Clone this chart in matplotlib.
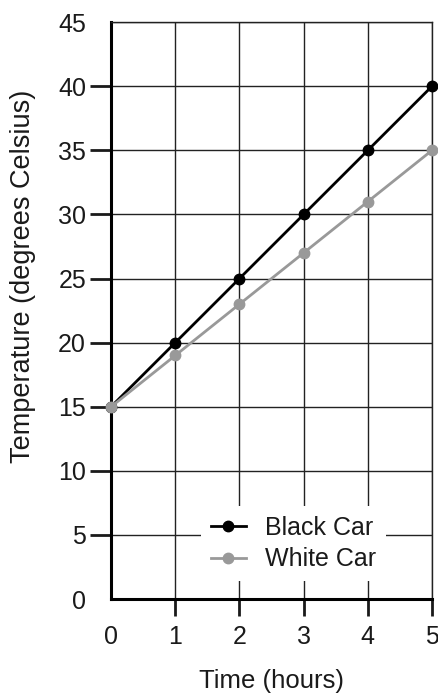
import matplotlib.pyplot as plt

plt.rcParams['font.family'] = ['Liberation Sans', 'DejaVu Sans']

hours = [0, 1, 2, 3, 4, 5]
black_car = [15, 20, 25, 30, 35, 40]
white_car = [15, 19, 23, 27, 31, 35]
y_ticks = [0, 5, 10, 15, 20, 25, 30, 35, 40, 45]

fig = plt.figure(figsize=(4.39, 6.93), dpi=100)
ax = fig.add_axes([0.253, 0.1356, 0.731, 0.8324])

ax.set_xlim(0, 5)
ax.set_ylim(0, 45)
ax.set_xticks(hours)
ax.set_yticks(y_ticks)
ax.grid(True, color='#222222', linewidth=1.0)
ax.set_axisbelow(True)

ax.plot(hours, black_car, color='black', linewidth=2, marker='o', markersize=7.5,
        label='Black Car', zorder=3, clip_on=False)
ax.plot(hours, white_car, color='#999999', linewidth=2, marker='o', markersize=7.5,
        label='White Car', zorder=3, clip_on=False)

for side in ['top', 'right']:
    ax.spines[side].set_linewidth(1.0)
    ax.spines[side].set_color('#222222')
for side in ['left', 'bottom']:
    ax.spines[side].set_linewidth(2.2)

ax.tick_params(axis='y', length=15, width=2, pad=3, labelsize=18, colors='#1a1a1a')
ax.tick_params(axis='x', length=12, width=2, pad=7, labelsize=18, colors='#1a1a1a')

# no tick marks at the corners
ax.xaxis.get_major_ticks()[0].tick1line.set_visible(False)
ax.yaxis.get_major_ticks()[0].tick1line.set_visible(False)
ax.yaxis.get_major_ticks()[-1].tick1line.set_visible(False)

ax.set_xlabel('Time (hours)', fontsize=18.5, labelpad=14, color='#1a1a1a')
ax.set_ylabel('Temperature (degrees Celsius)', fontsize=19.5, color='#1a1a1a')
ax.yaxis.set_label_coords(-0.235, 0.56)

leg = ax.legend(loc='center', bbox_to_anchor=(0.568, 0.096), fontsize=18,
                frameon=True, fancybox=False, framealpha=1, edgecolor='none',
                handlelength=1.4, handletextpad=0.75, labelspacing=0.3,
                borderpad=0.4, borderaxespad=0)
leg.set_zorder(4)
for t in leg.get_texts():
    t.set_color('#1a1a1a')

fig.savefig('out.png', dpi=100)
